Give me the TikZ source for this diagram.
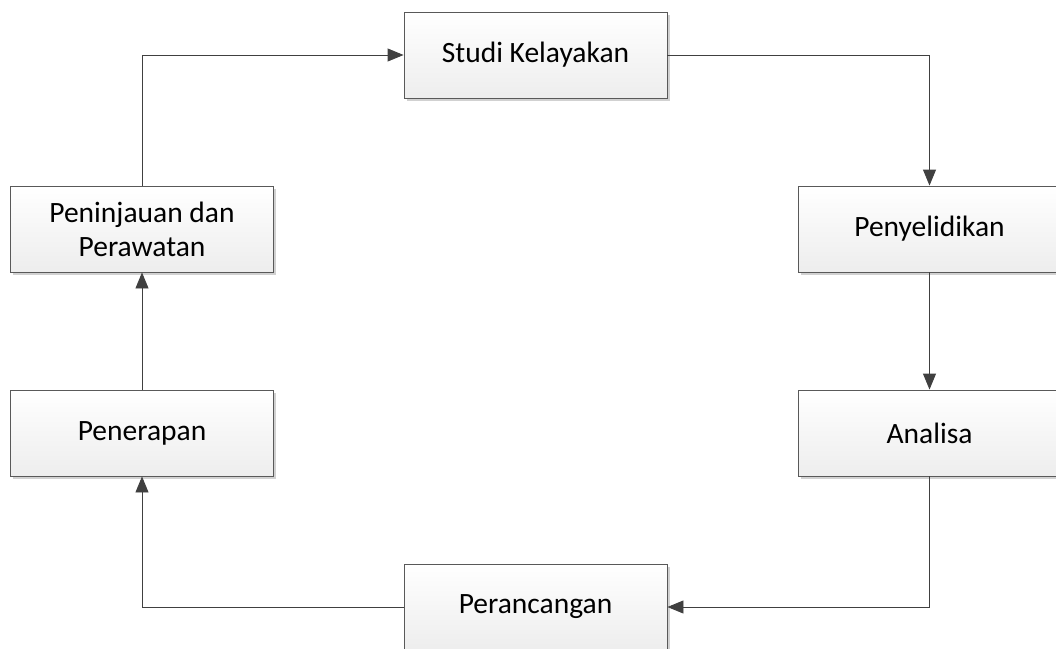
\documentclass[tikz,border=0pt]{standalone}
\usepackage{fontspec}
\setmainfont{Carlito}
\usetikzlibrary{arrows.meta,shadows}
\definecolor{edgec}{HTML}{595959}
\definecolor{linec}{HTML}{404040}
\tikzset{
  proc/.style={draw=edgec, line width=0.9pt, top color=white, bottom color=black!7,
    minimum width=263pt, minimum height=86pt, align=center, inner sep=0pt,
    font=\fontsize{29.5pt}{34pt}\selectfont,
    drop shadow={shadow xshift=2.5pt, shadow yshift=-2.5pt, fill=black, opacity=0.18}},
  conn/.style={draw=linec, line width=0.9pt, -{Triangle[length=16pt,width=13pt]}}
}
\begin{document}
\begin{tikzpicture}[x=1pt,y=-1pt]
\useasboundingbox (0,0) rectangle (1056,648);
\node[proc] (studi) at (535.5,55) {Studi Kelayakan};
\node[proc] (selidik) at (929.5,229) {Penyelidikan};
\node[proc] (analisa) at (929.5,433) {Analisa};
\node[proc] (rancang) at (535.5,607) {Perancangan};
\node[proc] (terap) at (142,433) {Penerapan};
\node[proc] (tinjau) at (142,229) {Peninjauan dan\\Perawatan};
\draw[conn] (studi.east) -| (selidik.north);
\draw[conn] (selidik.south) -- (analisa.north);
\draw[conn] (analisa.south) |- (rancang.east);
\draw[conn] (rancang.west) -| (terap.south);
\draw[conn] (terap.north) -- (tinjau.south);
\draw[conn] (tinjau.north) |- (studi.west);
\end{tikzpicture}
\end{document}
